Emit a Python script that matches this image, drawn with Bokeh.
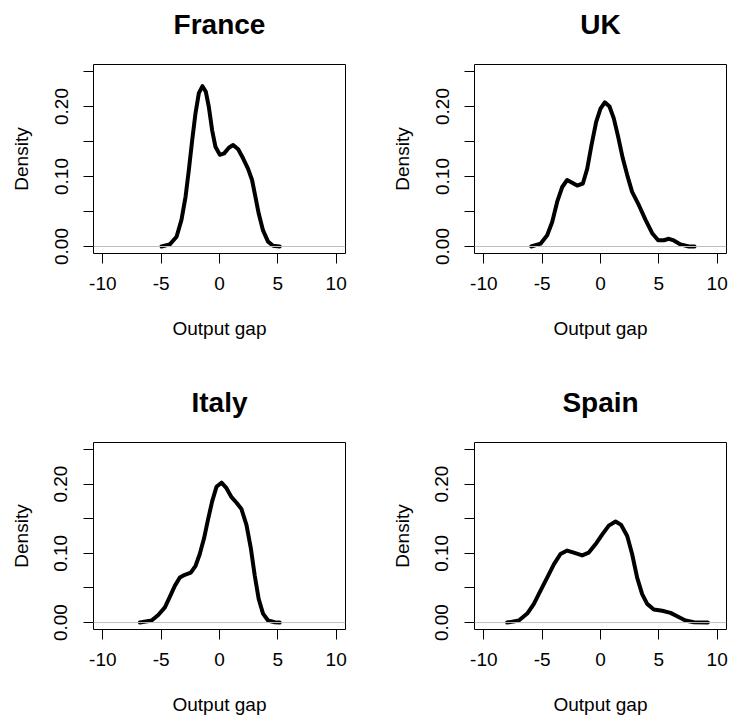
from bokeh.plotting import figure
from bokeh.models import Range1d, FixedTicker, Span, Title
from bokeh.layouts import column, row
from bokeh.embed import file_html
from bokeh.resources import INLINE

# ---- data ----
countries = ["France", "UK", "Italy", "Spain"]

france_x = [-4.97, -4.26, -3.68, -3.26, -2.91, -2.63, -2.34, -2.06, -1.77, -1.46, -1.17, -0.92,
            -0.63, -0.34, 0.03, 0.40, 0.80, 1.17, 1.60, 2.02, 2.45, 2.79, 3.08, 3.36, 3.73,
            4.16, 4.59, 5.16]
france_y = [0.0, 0.003, 0.014, 0.038, 0.071, 0.109, 0.152, 0.190, 0.219, 0.229, 0.221, 0.200,
            0.166, 0.142, 0.131, 0.133, 0.141, 0.145, 0.139, 0.126, 0.111, 0.095, 0.071, 0.047,
            0.023, 0.007, 0.001, 0.0]

uk_x = [-5.94, -5.14, -4.57, -4.14, -3.71, -3.28, -2.86, -2.43, -2.00, -1.51, -1.14, -0.77, -0.37,
        0.0, 0.37, 0.77, 1.14, 1.51, 1.91, 2.29, 2.71, 3.29, 3.86, 4.43, 4.94, 5.43, 5.86, 6.28,
        6.86, 7.57, 8.06]
uk_y = [0.0, 0.004, 0.016, 0.035, 0.064, 0.085, 0.095, 0.091, 0.087, 0.090, 0.111, 0.145, 0.178,
        0.197, 0.206, 0.200, 0.183, 0.157, 0.126, 0.102, 0.078, 0.059, 0.038, 0.019, 0.009, 0.009,
        0.011, 0.0086, 0.003, 0.0, 0.0]

italy_x = [-6.82, -5.82, -5.25, -4.68, -4.26, -3.83, -3.40, -2.97, -2.46, -2.05, -1.69, -1.32,
           -0.98, -0.63, -0.26, 0.17, 0.60, 1.03, 1.46, 1.88, 2.31, 2.68, 3.02, 3.36, 3.73,
           4.16, 4.73, 5.16]
italy_y = [0.0, 0.003, 0.011, 0.022, 0.037, 0.053, 0.065, 0.069, 0.072, 0.082, 0.099, 0.122,
           0.149, 0.175, 0.196, 0.202, 0.194, 0.181, 0.173, 0.164, 0.141, 0.108, 0.068, 0.034,
           0.013, 0.003, 0.0005, 0.0]

spain_x = [-8.0, -7.0, -6.28, -5.71, -5.14, -4.57, -4.0, -3.43, -2.86, -2.29, -1.57, -1.0,
           -0.43, 0.14, 0.71, 1.29, 1.77, 2.29, 2.71, 3.14, 3.57, 4.0, 4.57, 5.29, 6.0, 6.57,
           7.28, 8.0, 9.2]
spain_y = [0.0, 0.003, 0.013, 0.027, 0.046, 0.065, 0.084, 0.099, 0.104, 0.101, 0.097, 0.101,
           0.113, 0.127, 0.140, 0.146, 0.141, 0.125, 0.099, 0.065, 0.041, 0.027, 0.019, 0.017,
           0.014, 0.009, 0.003, 0.0005, 0.0]

x_ticks = [-10, -5, 0, 5, 10]
x_tick_labels = {-10: "-10", -5: "-5", 0: "0", 5: "5", 10: "10"}
y_ticks = [0, 0.05, 0.1, 0.15, 0.2, 0.25]
y_tick_labels = {0: "0.00", 0.05: "", 0.1: "0.10", 0.15: "", 0.2: "0.20", 0.25: ""}
x_label = "Output gap"
y_label = "Density"

FONT = "Liberation Sans"


def panel(title, xs, ys, width, height, left, right, top, bottom):
    p = figure(width=width, height=height,
               x_range=Range1d(-10.8, 10.8), y_range=Range1d(-0.01, 0.26),
               output_backend="svg", toolbar_location=None,
               min_border_left=left, min_border_right=right,
               min_border_top=top, min_border_bottom=bottom)
    # spacer between title and frame (added first -> nearest the frame)
    p.add_layout(Title(text=" ", text_font=FONT, text_font_size="10px", standoff=10), "above")
    p.add_layout(Title(text=title, text_font=FONT, text_font_size="28px",
                       text_font_style="bold", align="center", vertical_align="top",
                       text_color="black", standoff=0), "above")
    p.xgrid.visible = False
    p.ygrid.visible = False
    p.background_fill_color = "white"
    p.border_fill_color = "white"
    p.outline_line_color = "black"
    p.outline_line_width = 1
    p.outline_line_alpha = 1.0

    for ax in (p.xaxis[0], p.yaxis[0]):
        ax.axis_line_color = None
        ax.minor_tick_line_color = None
        ax.major_tick_in = 0
        ax.major_tick_out = 10
        ax.major_tick_line_color = "black"
        ax.major_label_text_font = FONT
        ax.major_label_text_font_size = "19px"
        ax.major_label_text_color = "black"
        ax.axis_label_text_font = FONT
        ax.axis_label_text_font_size = "19px"
        ax.axis_label_text_font_style = "normal"
        ax.axis_label_text_color = "black"

    xa = p.xaxis[0]
    xa.ticker = FixedTicker(ticks=x_ticks)
    xa.major_label_overrides = x_tick_labels
    xa.axis_label = x_label
    xa.major_label_standoff = 13
    xa.axis_label_standoff = 25

    ya = p.yaxis[0]
    ya.ticker = FixedTicker(ticks=y_ticks)
    ya.major_label_overrides = y_tick_labels
    ya.major_label_orientation = "vertical"
    ya.axis_label = y_label
    ya.major_label_standoff = 16
    ya.axis_label_standoff = 20

    p.add_layout(Span(location=0, dimension="width", line_color="#bebebe", line_width=1))
    p.line(xs, ys, line_color="black", line_width=4, line_join="round", line_cap="round")
    return p


f1 = panel(countries[0], france_x, france_y, 380, 378, 93, 35, 64, 125)
f2 = panel(countries[1], uk_x, uk_y, 348, 378, 94, 2, 64, 125)
f3 = panel(countries[2], italy_x, italy_y, 380, 339, 93, 35, 64, 86)
f4 = panel(countries[3], spain_x, spain_y, 348, 339, 94, 2, 64, 86)

layout = column(row(f1, f2), row(f3, f4))

with open("out.html", "w") as fh:
    fh.write(file_html(layout, INLINE))
